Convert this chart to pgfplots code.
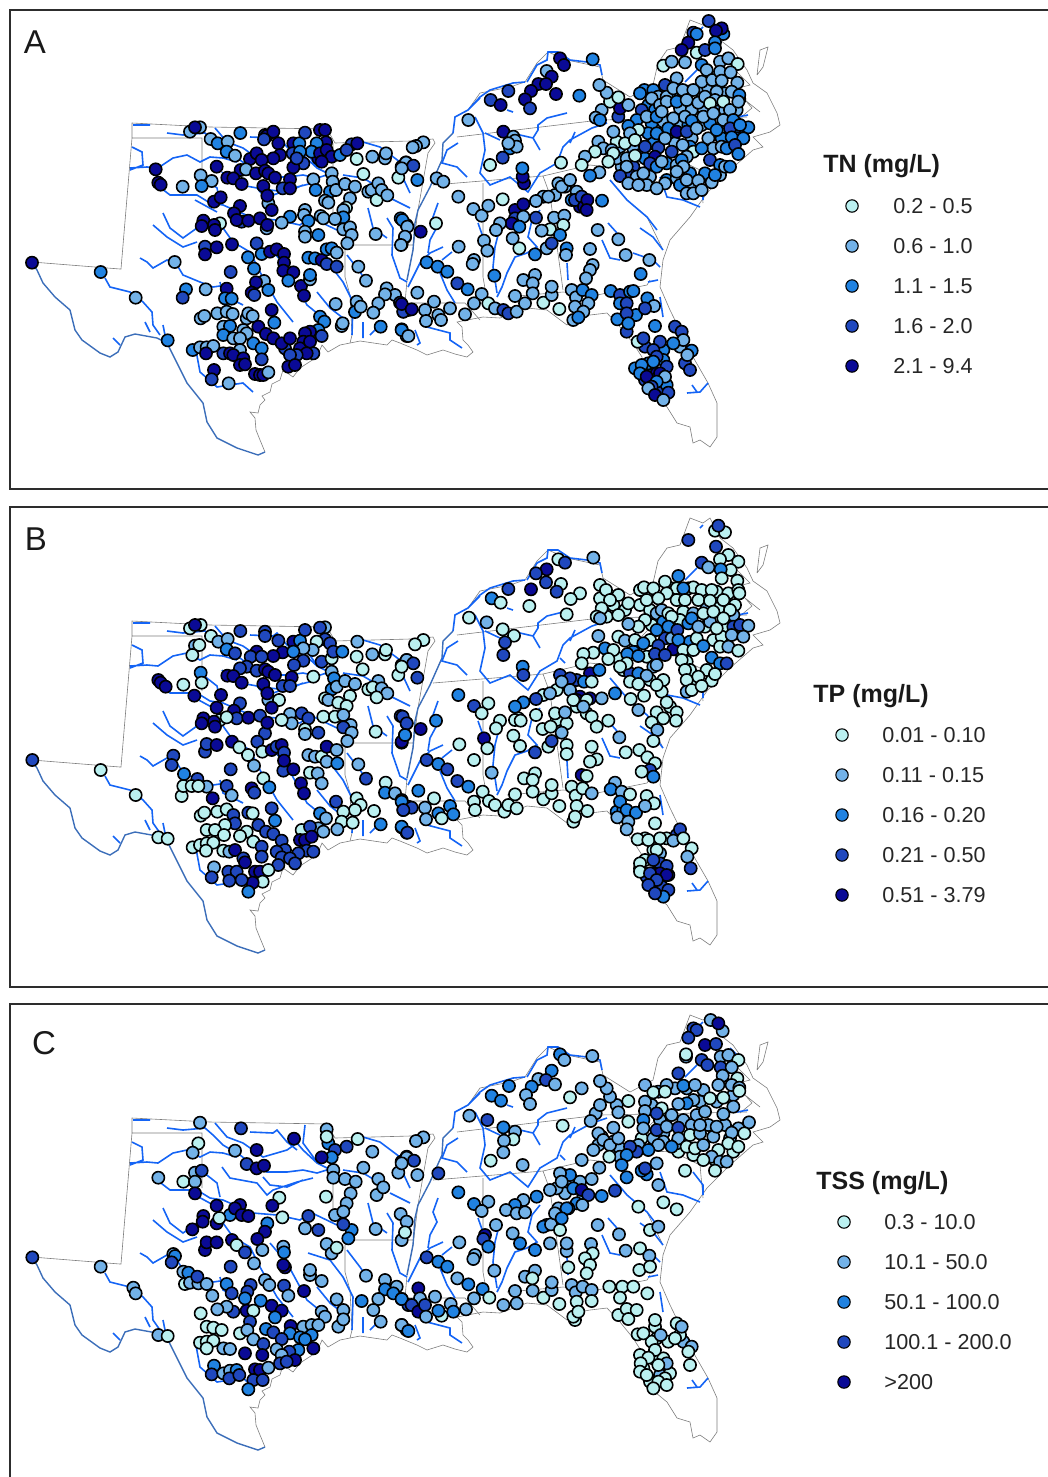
\documentclass[border=0pt]{standalone}
\usepackage{pgfplots}
\usepackage{pgfplotstable}
\usepackage{fontspec}
\setmainfont{Liberation Sans}
\pgfplotsset{compat=1.18}
\definecolor{c1}{RGB}{186,240,240}
\definecolor{c2}{RGB}{115,178,232}
\definecolor{c3}{RGB}{32,130,225}
\definecolor{c4}{RGB}{32,72,190}
\definecolor{c5}{RGB}{10,10,150}
\definecolor{riv}{RGB}{20,100,245}
\definecolor{rio}{RGB}{60,110,185}
\definecolor{bord}{RGB}{125,125,125}
\definecolor{fr}{RGB}{45,45,45}
\pgfplotstableread[row sep=\\]{x y\\
32 262\\ 120 269\\ 121 269\\ 132 138\\ 132 123\\ 210 127\\ 327 129\\ 335 143\\ 410 141\\ 433 139\\ 435 143\\ 428 153\\ 418 210\\ 413 250\\ 407 280\\ 405 303\\ nan nan\\
132 138\\ 202 138\\ 202 193\\ nan nan\\
333 143\\ 333 215\\ nan nan\\
353 245\\ 413 245\\ nan nan\\
353 245\\ 345 250\\ 345 277\\ 350 295\\ 352 335\\ 350 343\\ nan nan\\
405 303\\ 465 303\\ 480 320\\ nan nan\\
455 117\\ 468 110\\ 480 93\\ 510 87\\ 525 82\\ 537 63\\ 548 52\\ 567 60\\ 600 67\\ 603 80\\ 630 97\\ 653 85\\ 658 63\\ 667 50\\ 680 47\\ 690 20\\ 703 25\\ 710 20\\ 720 40\\ 733 50\\ nan nan\\
457 137\\ 600 120\\ 747 117\\ nan nan\\
433 185\\ 543 176\\ 590 165\\ 607 167\\ 633 147\\ 660 120\\ nan nan\\
483 183\\ 483 277\\ 487 300\\ nan nan\\
543 176\\ 550 195\\ 563 290\\ nan nan\\
507 297\\ 563 292\\ 597 295\\ 647 285\\ 650 280\\ nan nan\\
610 180\\ 627 200\\ 647 217\\ 663 250\\ nan nan\\
633 155\\ 673 157\\ 700 170\\ 703 203\\ nan nan\\
757 75\\ 760 50\\ 768 47\\ 763 67\\ 757 75\\ nan nan\\
}\Border
\pgfplotstableread[row sep=\\]{x y\\
265 452\\ 260 440\\ 256 430\\ 255 418\\ 250 412\\ 258 413\\ 260 405\\ 265 400\\ 262 396\\ 270 392\\ 272 384\\ 280 380\\ 283 370\\ 293 377\\ 300 368\\ 317 357\\ 322 345\\ 328 352\\ 340 345\\ 360 341\\ 387 345\\ 392 340\\ 400 343\\ 417 350\\ 427 355\\ 443 350\\ 455 354\\ 467 357\\ 473 352\\ 468 345\\ 463 340\\ 462 327\\ 457 322\\ 483 317\\ 500 318\\ 527 308\\ 547 310\\ 567 325\\ 572 318\\ 590 315\\ 607 313\\ 620 327\\ 633 343\\ 642 357\\ 645 375\\ 650 393\\ 667 407\\ 677 423\\ 690 427\\ 693 443\\ 700 440\\ 710 447\\ 717 437\\ 717 403\\ 708 383\\ 693 357\\ 670 310\\ 660 287\\ 663 260\\ 670 240\\ 690 217\\ 707 193\\ 730 170\\ 753 150\\ 763 147\\ 753 137\\ 770 132\\ 780 125\\ 777 113\\ 767 93\\ 753 83\\ 747 70\\ 733 50\\ nan nan\\
740 118\\ 752 108\\ 745 100\\ 760 112\\ nan nan\\
735 70\\ 750 85\\ 738 88\\ nan nan\\
}\Coast
\pgfplotstableread[row sep=\\]{x y\\
32 263\\ 37 270\\ 43 283\\ 55 297\\ 70 310\\ 75 330\\ 82 340\\ 100 353\\ 110 357\\ 118 352\\ 125 337\\ 135 334\\ 157 338\\ 167 343\\ 177 363\\ 187 383\\ 203 403\\ 207 422\\ 217 438\\ 237 448\\ 258 455\\ 265 452\\ nan nan\\
453 133\\ 443 143\\ 442 160\\ 430 187\\ 418 210\\ 415 223\\ 413 250\\ 407 280\\ nan nan\\
}\Rio
\pgfplotstableread[row sep=\\]{x y\\
133 125\\ 150 125\\ nan nan\\
132 147\\ 142 152\\ 143 165\\ 130 170\\ nan nan\\
130 168\\ 147 167\\ 158 168\\ 173 158\\ 187 155\\ 200 162\\ 210 157\\ 223 158\\ 237 162\\ nan nan\\
167 133\\ 183 135\\ 205 133\\ 213 140\\ 223 150\\ 240 160\\ 253 170\\ 267 177\\ 287 177\\ 303 175\\ 317 178\\ 333 173\\ nan nan\\
215 128\\ 227 142\\ 243 148\\ 263 162\\ 287 155\\ 297 148\\ 303 155\\ 317 168\\ 327 173\\ nan nan\\
250 137\\ 273 138\\ 277 135\\ 287 147\\ 297 155\\ nan nan\\
305 130\\ 303 148\\ 317 167\\ nan nan\\
222 172\\ 230 183\\ 257 188\\ 267 200\\ 273 195\\ 297 187\\ 313 183\\ nan nan\\
263 182\\ 270 190\\ 287 192\\ 303 185\\ nan nan\\
157 185\\ 170 195\\ 197 195\\ 210 203\\ 223 205\\ 253 218\\ 277 220\\ 300 225\\ 310 217\\ 337 230\\ nan nan\\
195 200\\ 217 212\\ nan nan\\
163 213\\ 170 228\\ 183 238\\ 197 228\\ nan nan\\
153 225\\ 167 237\\ 183 247\\ 197 242\\ nan nan\\
203 177\\ 217 188\\ 220 202\\ nan nan\\
140 258\\ 147 262\\ 153 268\\ 167 260\\ 177 265\\ 183 275\\ 200 282\\ 213 287\\ 227 285\\ nan nan\\
105 278\\ 110 287\\ 130 292\\ 143 302\\ 152 312\\ 153 325\\ 160 335\\ nan nan\\
113 338\\ 120 345\\ nan nan\\
145 322\\ 150 332\\ nan nan\\
163 325\\ 165 335\\ nan nan\\
195 345\\ 200 372\\ 217 387\\ 243 383\\ 253 392\\ nan nan\\
220 282\\ 223 295\\ 243 305\\ nan nan\\
223 228\\ 233 242\\ 250 252\\ 260 272\\ 277 302\\ 293 322\\ nan nan\\
270 248\\ 287 268\\ 300 292\\ 307 305\\ 323 318\\ nan nan\\
308 258\\ 330 265\\ 343 282\\ 353 302\\ 352 335\\ nan nan\\
317 292\\ 330 308\\ 343 318\\ nan nan\\
347 255\\ 360 272\\ 367 282\\ nan nan\\
368 208\\ 373 228\\ 387 238\\ nan nan\\
387 218\\ 393 228\\ 392 255\\ 400 278\\ 407 282\\ nan nan\\
363 322\\ 363 338\\ nan nan\\
380 325\\ 370 335\\ nan nan\\
390 198\\ 410 208\\ nan nan\\
403 178\\ 410 193\\ nan nan\\
363 142\\ 380 147\\ 400 162\\ nan nan\\
343 175\\ 363 178\\ 380 188\\ nan nan\\
480 98\\ 468 110\\ 455 117\\ 453 133\\ nan nan\\
527 82\\ 537 65\\ 547 60\\ 548 52\\ 558 52\\ 570 60\\ 587 62\\ 600 65\\ 602 75\\ nan nan\\
468 110\\ 480 97\\ 490 90\\ 513 83\\ 525 82\\ nan nan\\
507 110\\ 513 112\\ nan nan\\
567 113\\ 547 118\\ 538 125\\ 538 130\\ 533 138\\ 520 135\\ 512 143\\ nan nan\\
533 138\\ 540 150\\ nan nan\\
475 117\\ 483 133\\ 485 150\\ 480 173\\ 490 185\\ 510 177\\ 528 192\\ 540 173\\ 557 163\\ 563 147\\ 570 140\\ 592 128\\ 607 123\\ nan nan\\
575 132\\ 570 143\\ nan nan\\
560 160\\ 565 165\\ nan nan\\
485 133\\ 500 140\\ nan nan\\
458 143\\ 447 150\\ 442 163\\ 457 167\\ 467 177\\ nan nan\\
438 203\\ 433 217\\ 437 227\\ 430 240\\ 428 253\\ nan nan\\
443 247\\ 430 253\\ 420 263\\ 413 277\\ 408 287\\ nan nan\\
452 252\\ 442 260\\ nan nan\\
440 273\\ 447 290\\ 455 303\\ nan nan\\
478 223\\ 483 237\\ nan nan\\
500 227\\ 495 247\\ 493 267\\ 497 293\\ nan nan\\
540 210\\ 532 220\\ 528 237\\ 537 247\\ 527 253\\ 515 257\\ 507 273\\ 502 287\\ 497 297\\ nan nan\\
567 263\\ 568 280\\ nan nan\\
608 223\\ 617 233\\ nan nan\\
602 240\\ 610 258\\ 620 260\\ nan nan\\
633 253\\ 653 260\\ 660 267\\ nan nan\\
640 228\\ 653 237\\ 663 250\\ nan nan\\
648 282\\ 658 280\\ nan nan\\
610 180\\ 627 200\\ 647 217\\ 657 230\\ nan nan\\
660 297\\ 663 317\\ nan nan\\
660 177\\ 667 197\\ 683 200\\ 700 207\\ nan nan\\
693 177\\ 703 190\\ 703 200\\ nan nan\\
687 393\\ 700 392\\ 708 383\\ nan nan\\
692 385\\ 697 392\\ nan nan\\
697 70\\ 685 82\\ nan nan\\
737 117\\ 748 115\\ nan nan\\
730 53\\ 737 60\\ nan nan\\
703 27\\ 700 30\\ nan nan\\
427 327\\ 450 333\\ 450 340\\ 462 348\\ nan nan\\
415 330\\ 420 343\\ 417 345\\ nan nan\\
}\Rivers
% Panel A, west: x = X/3+10, y = Y/3+110
\pgfplotstableread[row sep=\\]{x y c\\
940 130 5\\ 925 145 5\\
66 458 5\\ 272 486 3\\ 377 563 2\\ 494 456 2\\ 473 691 3\\ 437 178 5\\ 445 218 5\\ 452 224 5\\ 518 230 2\\ 540 65 2\\ 570 52 2\\ 555 52 5\\ 602 87 2\\ 623 100 3\\ 653 95 2\\ 650 125 3\\ 675 137 2\\ 691 69 3\\ 765 75 4\\ 770 78 5\\ 790 65 5\\ 762 88 4\\ 805 100 5\\ 810 135 5\\ 790 145 5\\ 850 100 5\\ 868 100 3\\ 885 68 4\\ 930 60 5\\ 945 60 5\\ 948 97 5\\ 920 100 3\\ 905 125 3\\ 848 130 4\\ 870 125 3\\ 880 160 4\\ 850 172 5\\ 860 145 4\\ 930 130 5\\ 950 120 5\\ 965 140 5\\ 935 155 5\\ 990 135 3\\ 1025 103 4\\ 1042 100 5\\ 1010 120 4\\ 720 147 5\\ 740 130 5\\ 755 150 5\\ 692 180 5\\ 708 178 2\\ 738 190 5\\ 765 182 5\\ 775 190 5\\ 795 203 5\\ 620 170 5\\ 652 203 5\\ 670 205 5\\ 695 222 5\\ 840 208 5\\ 818 235 4\\ 840 235 5\\ 760 228 5\\ 775 280 2\\ 772 257 5\\ 785 300 5\\ 572 196 2\\ 605 213 2\\ 575 228 3\\ 612 275 5\\ 632 262 5\\ 1040 147 1\\ 1060 192 1\\ 1087 140 2\\ 1125 145 2\\ 1128 130 2\\ 910 208 2\\ 917 240 3\\ 965 190 2\\ 968 215 2\\ 960 245 3\\ 978 240 2\\ 1005 222 2\\ 1035 230 2\\ 1020 265 2\\ 945 272 2\\ 955 278 2\\ 1008 293 1\\ 1000 300 2\\ 1165 203 1\\ 1175 170 2\\ 1188 157 2\\ 1075 245 2\\ 1085 240 2\\ 1105 220 2\\ 1100 270 1\\ 1115 240 2\\ 1132 256 2\\ 885 300 2\\ 882 315 2\\ 895 333 3\\ 840 320 3\\ 815 338 2\\ 932 318 2\\ 940 325 2\\ 1000 322 3\\ 975 327 2\\ 1000 358 2\\ 1020 352 2\\ 1025 375 2\\ 1012 400 2\\ 885 365 2\\ 885 380 2\\ 925 375 3\\ 1097 372 2\\ 1172 325 3\\ 1190 345 2\\ 1175 403 2\\ 1185 382 2\\ 690 288 5\\ 672 310 5\\ 695 335 4\\ 680 330 5\\ 715 332 5\\ 750 325 5\\ 770 355 2\\ 772 345 5\\ 630 340 1\\ 580 332 5\\ 575 348 5\\ 612 345 5\\ 615 360 5\\ 585 410 4\\ 620 412 5\\ 585 433 5\\ 666 403 5\\ 740 400 4\\ 714 442 3\\ 755 432 3\\ 732 476 3\\ 780 425 5\\ 800 418 5\\ 822 432 5\\ 822 458 5\\ 820 482 5\\ 850 487 5\\ 835 512 3\\ 895 443 3\\ 915 445 3\\ 935 450 5\\ 950 462 4\\ 980 470 4\\ 950 418 3\\ 965 415 3\\ 980 428 2\\ 662 486 4\\ 762 513 2\\ 738 517 5\\ 775 540 3\\ 725 548 5\\ 733 555 4\\ 650 536 5\\ 645 565 3\\ 665 566 3\\ 528 538 3\\ 518 563 4\\ 587 538 2\\ 873 528 5\\ 882 557 5\\ 900 508 2\\ 900 495 3\\ 1045 470 2\\ 1068 512 2\\ 1040 575 2\\ 1035 606 3\\ 1052 590 2\\ 977 582 2\\ 1130 535 2\\ 1155 555 2\\ 1125 553 2\\ 1105 580 2\\ 1090 608 2\\ 1170 578 4\\ 1180 605 4\\ 1195 600 3\\ 785 600 5\\ 793 638 3\\ 930 620 3\\ 943 635 3\\ 995 648 2\\ 998 640 2\\ 1112 650 3\\ 1175 658 3\\ 1190 678 2\\ 572 625 2\\ 583 618 2\\ 622 610 2\\ 650 605 2\\ 668 612 2\\ 710 625 2\\ 715 610 2\\ 728 618 2\\ 640 650 2\\ 660 648 3\\ 640 675 3\\ 670 685 2\\ 700 660 2\\ 710 670 2\\ 690 685 2\\ 745 650 5\\ 768 672 5\\ 790 685 5\\ 825 715 4\\ 815 700 5\\ 840 685 5\\ 730 700 3\\ 755 715 3\\ 690 720 2\\ 925 660 3\\ 935 678 4\\ 900 665 5\\ 885 670 5\\ 880 695 5\\ 870 715 5\\ 900 695 5\\ 910 730 4\\ 890 730 5\\ 860 735 4\\ 840 735 4\\ 835 770 5\\ 855 765 5\\ 548 720 3\\ 570 712 2\\ 590 712 2\\ 610 708 2\\ 588 730 5\\ 640 730 4\\ 660 730 5\\ 670 735 5\\ 700 745 5\\ 690 765 5\\ 705 763 5\\ 755 748 4\\ 735 792 5\\ 750 795 5\\ 760 795 5\\ 775 787 2\\ 612 780 5\\ 605 808 4\\ 656 820 2\\
}\AW
% Panel A, east: x = X/3+400, y = Y/3+10
\pgfplotstableread[row sep=\\]{x y c\\
745 245 3\\ 815 250 2\\ 865 245 2\\ 905 245 2\\ 925 235 2\\ 975 250 2\\ 745 285 3\\ 765 300 3\\ 840 295 2\\ 875 300 2\\ 910 295 2\\ 955 295 2\\ 975 300 2\\ 1010 300 2\\ 755 340 3\\ 790 335 2\\ 835 340 2\\ 865 345 3\\ 905 345 2\\ 930 340 3\\ 975 355 2\\ 1010 360 3\\ 745 370 3\\ 790 385 3\\ 820 385 3\\ 875 385 2\\ 925 385 2\\ 965 385 3\\ 1010 385 3\\ 760 400 3\\ 825 400 2\\ 870 410 3\\ 940 415 2\\ 965 410 2\\ 660 410 2\\ 650 395 1\\ 700 415 2\\ 720 435 2\\ 735 445 3\\ 800 460 3\\ 830 465 2\\ 870 490 3\\ 880 525 2\\ 915 490 3\\ 960 495 2\\ 750 500 2\\ 800 510 3\\ 830 505 2\\ 840 525 3\\ 665 470 2\\ 650 445 2\\ 700 470 4\\ 690 495 4\\ 740 525 2\\ 795 520 2\\ 735 1010 4\\ 790 1020 3\\ 755 1075 4\\ 790 1050 3\\ 745 1060 3\\ 705 1075 3\\ 735 1110 4\\ 775 1140 4\\ 800 1125 3\\ 770 1090 5\\ 840 1010 2\\ 855 1060 4\\ 530 545 2\\ 495 530 2\\ 465 555 2\\ 430 560 2\\ 540 590 5\\ 350 640 3\\
926 33 4\\ 970 72 3\\ 965 55 5\\ 948 62 5\\ 880 68 4\\ 890 72 3\\ 865 98 5\\ 845 120 5\\ 890 128 1\\ 915 120 4\\ 945 97 3\\ 945 115 3\\ 790 167 1\\ 815 155 2\\ 855 157 2\\ 905 165 3\\ 960 155 2\\ 985 145 2\\ 1013 162 1\\ 920 180 2\\ 830 205 2\\ 905 215 2\\ 937 210 2\\ 960 185 2\\ 965 212 2\\ 992 187 2\\ 1012 218 2\\ 733 240 3\\ 720 250 3\\ 795 225 4\\ 760 240 3\\ 775 260 2\\ 800 260 2\\ 820 235 2\\ 848 240 2\\ 880 240 2\\ 950 245 2\\ 995 245 2\\ 1018 268 2\\ 1018 255 3\\ 725 300 4\\ 755 265 2\\ 780 285 2\\ 800 275 2\\ 830 275 3\\ 860 270 2\\ 895 278 2\\ 915 260 2\\ 945 270 2\\ 930 280 1\\ 970 275 1\\ 990 300 2\\ 1015 275 2\\ 710 330 3\\ 685 348 3\\ 715 360 1\\ 740 320 2\\ 770 320 3\\ 785 305 2\\ 820 325 2\\ 855 320 2\\ 875 332 3\\ 910 320 2\\ 940 310 2\\ 970 330 2\\ 1000 330 3\\ 770 370 3\\ 805 355 3\\ 830 365 5\\ 860 365 4\\ 890 355 2\\ 950 360 3\\ 990 355 4\\ 1045 352 3\\ 1020 345 3\\ 995 382 3\\ 1030 385 3\\ 640 365 2\\ 690 370 2\\ 675 400 1\\ 705 390 1\\ 735 410 4\\ 775 413 4\\ 765 440 5\\ 815 425 4\\ 795 385 2\\ 848 405 2\\ 880 425 1\\ 905 415 3\\ 980 415 3\\ 1005 405 4\\ 1015 432 3\\ 860 440 2\\ 595 395 2\\ 610 415 2\\ 585 425 1\\ 555 440 2\\ 635 420 2\\ 640 430 1\\ 625 455 1\\ 680 445 2\\ 705 437 1\\ 680 470 2\\ 750 460 4\\ 770 470 3\\ 710 500 2\\ 730 490 2\\ 785 455 2\\ 845 450 3\\ 850 470 2\\ 930 450 4\\ 960 465 3\\ 975 470 2\\ 990 470 3\\ 545 465 1\\ 483 458 1\\ 598 487 2\\ 570 497 3\\ 660 498 4\\ 685 520 2\\ 715 525 2\\ 770 535 2\\ 830 485 2\\ 860 510 2\\ 895 512 2\\ 935 517 2\\ 945 495 3\\ 860 550 2\\ 880 550 2\\ 905 540 2\\ 605 300 2\\ 587 323 2\\ 600 330 3\\ 655 320 4\\ 660 295 5\\ 630 275 1\\ 655 262 1\\ 620 248 2\\ 598 225 2\\ 685 285 2\\ 480 145 5\\ 492 165 5\\ 578 148 3\\ 440 183 2\\ 455 200 5\\ 415 222 5\\ 438 222 5\\ 393 243 5\\ 375 268 5\\ 390 295 4\\ 468 252 5\\ 538 257 3\\ 325 243 4\\ 272 270 4\\ 302 285 5\\ 205 330 2\\ 310 365 5\\ 340 380 2\\ 345 392 2\\ 330 415 3\\ 350 410 2\\ 325 400 2\\ 308 443 4\\ 270 465 1\\ 372 520 5\\ 368 500 5\\ 367 475 3\\ 70 397 2\\ 48 408 2\\ 38 412 2\\ 18 458 2\\ 40 467 4\\ 5 475 2\\ 52 510 3\\ 110 505 2\\ 130 515 2\\ 175 560 2\\ 220 597 2\\ 245 617 2\\ 265 587 2\\ 308 568 1\\ 345 600 5\\ 370 583 5\\ 408 573 2\\ 445 560 2\\ 475 520 2\\ 485 530 2\\ 510 510 2\\ 515 570 3\\ 525 570 4\\ 545 560 4\\ 552 590 5\\ 562 570 5\\ 560 600 5\\ 606 572 3\\ 345 625 4\\ 335 640 5\\ 370 620 2\\ 358 650 3\\ 408 623 4\\ 300 640 2\\ 288 660 2\\ 462 623 2\\ 493 617 2\\ 490 645 1\\ 450 658 1\\ 425 662 2\\ 7 630 3\\ 22 650 2\\ 15 680 2\\ 3 705 2\\ 62 665 5\\ 108 640 1\\ 480 675 3\\ 440 715 2\\ 455 700 4\\ 500 715 3\\ 498 735 2\\ 405 733 3\\ 358 715 1\\ 338 685 2\\ 252 692 2\\ 262 722 2\\ 176 710 2\\ 222 750 2\\ 218 762 2\\ 283 797 3\\ 593 660 2\\ 655 688 2\\ 570 717 2\\ 677 735 2\\ 748 750 2\\ 722 792 3\\ 578 765 2\\ 570 780 2\\ 558 805 2\\ 80 757 3\\ 113 770 3\\ 142 785 3\\ 172 820 4\\ 203 838 3\\ 245 852 2\\ 52 848 2\\ 102 875 2\\ 10 905 4\\ 5 882 5\\ 35 898 5\\ 75 900 2\\ 150 895 2\\ 115 915 2\\ 123 930 2\\ 78 933 2\\ 195 913 2\\ 222 880 2\\ 265 880 1\\ 285 895 2\\ 310 900 4\\ 325 910 4\\ 350 905 2\\ 345 858 2\\ 375 880 2\\ 370 810 2\\ 405 795 2\\ 398 820 2\\ 398 850 2\\ 430 878 1\\ 478 897 1\\ 455 855 2\\ 455 830 2\\ 515 840 2\\ 528 862 2\\ 548 840 3\\ 575 855 3\\ 565 880 2\\ 525 890 2\\ 550 905 2\\ 520 930 2\\ 535 922 3\\ 632 843 3\\ 660 855 4\\ 690 845 3\\ 700 843 3\\ 742 865 3\\ 762 888 2\\ 660 880 3\\ 680 880 4\\ 708 915 3\\ 735 895 4\\ 652 928 3\\ 680 910 4\\ 680 965 4\\ 685 940 3\\ 713 995 1\\ 765 948 3\\ 730 985 4\\ 780 995 4\\ 825 950 4\\ 845 965 4\\ 850 990 2\\ 820 1000 3\\ 875 1022 3\\ 862 1035 2\\ 870 1080 4\\ 760 1020 4\\ 770 1040 4\\ 760 1055 3\\ 725 1065 3\\ 800 1070 4\\ 720 1090 3\\ 780 1090 5\\ 740 1100 5\\ 795 1100 2\\ 770 1115 3\\ 755 1130 4\\ 745 1135 2\\ 805 1148 4\\ 765 1155 5\\ 790 1170 2\\ 5 960 3\\ 25 978 2\\
}\AE
% Panel B, west: x = X/3+10, y = Y/3+610
\pgfplotstableread[row sep=\\]{x y c\\
67 450 4\\ 272 480 1\\ 377 555 1\\ 445 682 1\\ 473 686 1\\ 445 210 5\\ 452 218 5\\ 467 230 5\\ 520 224 1\\ 553 257 5\\ 633 255 5\\ 540 55 1\\ 572 45 1\\ 555 45 5\\ 603 78 1\\ 625 95 2\\ 653 87 2\\ 650 118 3\\ 675 130 4\\ 555 107 2\\ 568 105 1\\ 547 135 1\\ 691 63 4\\ 765 65 4\\ 765 78 4\\ 805 92 4\\ 818 127 5\\ 790 138 5\\ 850 95 5\\ 870 92 3\\ 885 60 4\\ 945 52 2\\ 930 53 4\\ 945 88 4\\ 920 95 1\\ 908 120 2\\ 880 115 2\\ 850 125 3\\ 880 152 4\\ 852 165 4\\ 935 155 4\\ 960 100 4\\ 965 145 1\\ 970 125 4\\ 997 125 3\\ 1042 95 2\\ 1040 140 1\\ 1058 178 1\\ 1087 133 2\\ 1125 133 1\\ 1128 120 1\\ 1165 195 1\\ 1175 165 2\\ 1190 150 2\\ 740 125 5\\ 722 140 4\\ 755 140 4\\ 710 170 4\\ 690 175 4\\ 740 182 4\\ 765 178 5\\ 775 185 5\\ 795 195 5\\ 652 197 5\\ 670 198 5\\ 695 218 5\\ 845 202 5\\ 818 228 4\\ 840 228 4\\ 910 200 1\\ 572 188 3\\ 575 218 1\\ 760 222 5\\ 775 270 2\\ 772 250 5\\ 807 270 1\\ 785 293 5\\ 965 185 2\\ 972 205 3\\ 965 238 3\\ 980 230 2\\ 1005 213 2\\ 1035 222 2\\ 1020 258 1\\ 945 265 1\\ 955 270 2\\ 985 278 1\\ 1010 288 1\\ 1105 213 2\\ 1075 238 1\\ 1088 232 1\\ 1115 235 2\\ 1132 250 2\\ 1100 262 1\\ 620 293 5\\ 690 280 4\\ 672 302 5\\ 680 325 4\\ 715 323 5\\ 750 317 4\\ 765 370 4\\ 772 338 5\\ 630 330 1\\ 650 322 1\\ 580 325 5\\ 575 340 5\\ 612 335 5\\ 615 350 5\\ 840 312 2\\ 845 340 2\\ 815 330 1\\ 875 310 4\\ 895 325 4\\ 940 320 1\\ 975 320 1\\ 1000 315 2\\ 1022 345 2\\ 1000 352 4\\ 1025 368 2\\ 1012 393 2\\ 885 358 1\\ 885 372 2\\ 925 368 4\\ 1097 365 1\\ 1172 318 4\\ 1190 340 4\\ 1175 398 4\\ 1185 375 3\\ 585 425 4\\ 590 402 4\\ 620 405 5\\ 666 395 5\\ 688 412 1\\ 714 435 1\\ 742 395 4\\ 757 425 1\\ 785 420 5\\ 800 410 4\\ 815 405 5\\ 822 428 4\\ 820 482 4\\ 822 452 5\\ 850 478 5\\ 732 467 2\\ 490 437 4\\ 485 465 4\\ 522 492 3\\ 562 507 4\\ 590 530 2\\ 515 558 1\\ 520 528 1\\ 545 528 1\\ 565 528 1\\ 608 565 5\\ 650 528 4\\ 665 556 2\\ 662 478 4\\ 725 535 5\\ 733 548 4\\ 760 505 1\\ 778 532 3\\ 873 520 5\\ 882 550 5\\ 900 488 1\\ 923 490 2\\ 935 520 2\\ 895 435 2\\ 915 440 2\\ 935 440 1\\ 950 410 5\\ 980 420 2\\ 950 455 2\\ 982 460 3\\ 1045 463 2\\ 1068 506 4\\ 1040 565 1\\ 1052 585 1\\ 1035 600 1\\ 978 575 4\\ 1092 603 1\\ 1127 518 1\\ 1125 548 3\\ 1155 550 2\\ 1175 570 3\\ 1180 600 4\\ 1195 590 3\\ 785 595 4\\ 795 632 3\\ 930 610 3\\ 948 625 2\\ 1000 605 1\\ 995 635 1\\ 1028 638 1\\ 982 658 2\\ 1112 643 3\\ 1175 652 3\\ 1190 668 4\\ 572 617 1\\ 583 608 1\\ 622 605 1\\ 650 598 1\\ 670 615 4\\ 715 608 4\\ 728 610 1\\ 675 640 4\\ 645 645 1\\ 590 660 1\\ 615 660 1\\ 642 675 1\\ 710 665 1\\ 690 678 1\\ 745 645 4\\ 768 665 4\\ 790 672 4\\ 815 692 4\\ 730 695 1\\ 755 710 4\\ 825 720 4\\ 925 655 2\\ 940 665 2\\ 875 660 1\\ 900 650 4\\ 870 690 5\\ 885 690 5\\ 905 680 5\\ 890 722 4\\ 910 725 4\\ 865 730 4\\ 800 725 4\\ 815 742 4\\ 840 745 4\\ 805 765 4\\ 855 760 4\\ 548 712 1\\ 570 705 1\\ 590 700 1\\ 610 698 1\\ 588 722 1\\ 640 722 1\\ 658 725 2\\ 675 720 5\\ 700 745 4\\ 705 757 5\\ 755 740 4\\ 735 785 5\\ 750 785 5\\ 758 815 1\\ 775 780 1\\ 728 818 5\\ 715 845 3\\ 612 772 2\\ 605 802 4\\ 655 785 4\\ 680 785 4\\ 658 812 4\\ 695 810 4\\
}\BW
% Panel B, east: x = X/3+400, y = Y/3+510
\pgfplotstableread[row sep=\\]{x y c\\
745 245 1\\ 815 235 1\\ 830 235 1\\ 865 235 1\\ 950 245 1\\ 985 250 1\\ 720 285 1\\ 750 300 1\\ 770 310 2\\ 850 305 1\\ 880 310 2\\ 920 295 2\\ 955 295 1\\ 1005 285 1\\ 1000 315 2\\ 755 345 1\\ 790 335 3\\ 840 330 1\\ 865 340 3\\ 915 350 1\\ 930 335 2\\ 975 350 1\\ 1010 370 4\\ 750 390 1\\ 795 385 4\\ 815 385 2\\ 870 395 3\\ 890 385 1\\ 940 390 1\\ 965 380 1\\ 845 430 1\\ 860 455 1\\ 870 480 1\\ 880 515 1\\ 920 480 1\\ 960 410 1\\ 700 425 3\\ 740 440 1\\ 760 470 2\\ 655 445 1\\ 670 480 1\\ 690 490 4\\ 715 490 3\\ 750 510 1\\ 790 510 1\\ 785 545 1\\ 810 590 1\\ 600 265 1\\ 640 285 1\\ 675 300 1\\ 620 320 1\\ 500 520 2\\ 530 510 4\\ 470 540 1\\ 430 555 1\\ 530 590 1\\ 560 610 1\\ 540 560 5\\ 570 565 5\\ 355 625 1\\ 470 630 1\\ 500 640 1\\ 735 985 1\\ 800 985 1\\ 830 975 4\\ 760 1020 1\\ 780 1030 2\\ 735 1050 1\\ 780 1060 4\\ 760 1090 5\\ 790 1100 5\\ 740 1100 4\\ 760 1130 4\\ 785 1130 4\\ 720 1075 1\\ 805 1095 4\\ 650 905 3\\ 670 900 3\\
945 62 1\\ 975 67 1\\ 955 47 4\\ 948 110 4\\ 865 90 4\\ 905 158 4\\ 925 172 2\\ 985 135 1\\ 960 148 1\\ 1015 155 1\\ 992 180 1\\ 962 178 3\\ 835 198 3\\ 880 232 1\\ 905 240 1\\ 850 235 3\\ 720 240 1\\ 732 232 1\\ 760 235 1\\ 795 215 1\\ 800 250 1\\ 965 205 1\\ 1012 212 1\\ 1015 240 1\\ 1018 250 1\\ 935 240 1\\ 740 270 1\\ 775 265 1\\ 785 300 2\\ 830 270 1\\ 855 270 1\\ 895 270 1\\ 930 272 1\\ 970 270 1\\ 990 300 1\\ 805 310 1\\ 815 320 1\\ 875 325 3\\ 910 310 1\\ 940 305 1\\ 970 325 1\\ 735 330 1\\ 715 350 1\\ 685 342 2\\ 770 360 3\\ 805 350 3\\ 832 360 4\\ 895 350 2\\ 950 355 1\\ 1000 350 4\\ 1020 345 4\\ 1045 347 2\\ 995 375 2\\ 1030 380 2\\ 655 380 1\\ 675 392 2\\ 705 390 1\\ 730 400 3\\ 775 407 4\\ 765 432 4\\ 820 418 5\\ 795 435 4\\ 835 390 3\\ 850 420 1\\ 880 420 1\\ 910 408 3\\ 985 410 2\\ 1015 422 1\\ 935 443 3\\ 960 460 3\\ 980 460 4\\ 595 378 2\\ 615 415 3\\ 580 428 1\\ 550 432 1\\ 545 460 1\\ 640 420 1\\ 625 447 1\\ 682 432 3\\ 680 460 1\\ 660 470 1\\ 715 438 3\\ 770 465 2\\ 740 497 2\\ 690 515 1\\ 715 522 1\\ 845 450 1\\ 855 480 1\\ 895 500 1\\ 935 512 1\\ 945 492 1\\ 770 525 1\\ 860 510 1\\ 860 545 2\\ 875 540 1\\ 905 528 1\\ 570 490 5\\ 598 480 3\\ 480 495 4\\ 510 505 4\\ 485 515 2\\ 552 515 3\\ 575 515 1\\ 450 550 2\\ 408 567 4\\ 370 577 3\\ 345 590 3\\ 510 540 2\\ 530 570 5\\ 520 570 1\\ 560 570 1\\ 550 590 2\\ 605 565 2\\ 645 550 3\\ 692 567 1\\ 732 557 1\\ 715 600 2\\ 770 607 1\\ 800 577 1\\ 830 607 1\\ 828 632 1\\ 790 625 1\\ 755 637 1\\ 772 660 2\\ 760 693 1\\ 575 620 1\\ 590 650 1\\ 625 632 1\\ 658 682 2\\ 677 727 1\\ 718 720 1\\ 742 742 1\\ 765 760 1\\ 750 780 4\\ 760 800 3\\ 725 785 1\\ 600 225 1\\ 618 240 1\\ 655 255 1\\ 630 270 1\\ 685 280 1\\ 655 315 1\\ 605 295 1\\ 590 320 1\\ 600 325 2\\ 580 143 2\\ 475 148 1\\ 495 158 4\\ 440 178 5\\ 408 190 4\\ 438 217 4\\ 483 222 1\\ 470 245 4\\ 393 238 5\\ 540 250 1\\ 512 267 1\\ 325 237 4\\ 275 265 3\\ 302 278 1\\ 388 288 1\\ 500 313 1\\ 207 323 1\\ 260 337 2\\ 308 358 1\\ 342 377 1\\ 315 397 4\\ 310 435 4\\ 70 390 1\\ 45 403 1\\ 20 450 2\\ 40 460 4\\ 5 470 1\\ 52 503 4\\ 368 470 3\\ 370 495 4\\ 175 555 3\\ 222 588 4\\ 265 580 1\\ 245 610 1\\ 300 632 1\\ 288 655 1\\ 345 630 1\\ 362 632 1\\ 340 677 1\\ 360 708 1\\ 408 615 1\\ 428 657 1\\ 452 650 1\\ 465 610 1\\ 495 607 2\\ 485 668 2\\ 445 710 1\\ 455 693 4\\ 500 705 1\\ 500 732 1\\ 405 727 4\\ 108 632 3\\ 8 620 4\\ 20 640 4\\ 62 657 5\\ 5 695 5\\ 15 675 3\\ 178 703 1\\ 252 685 5\\ 262 715 1\\ 222 750 1\\ 275 788 2\\ 80 750 4\\ 115 762 3\\ 142 778 4\\ 172 813 4\\ 205 830 3\\ 248 845 1\\ 222 875 1\\ 225 900 1\\ 267 873 1\\ 285 885 1\\ 313 905 1\\ 325 885 1\\ 350 895 1\\ 345 853 1\\ 372 805 1\\ 405 790 1\\ 398 810 1\\ 398 845 1\\ 430 868 1\\ 478 888 1\\ 455 850 1\\ 455 825 1\\ 515 830 1\\ 527 857 1\\ 548 835 1\\ 575 850 2\\ 562 903 1\\ 530 888 1\\ 520 935 1\\ 525 920 1\\ 575 710 1\\ 590 748 1\\ 570 755 1\\ 545 795 5\\ 560 798 1\\ 55 842 3\\ 102 865 1\\ 5 875 3\\ 35 893 4\\ 10 900 4\\ 75 893 2\\ 150 888 3\\ 115 910 3\\ 160 913 3\\ 78 928 2\\ 125 925 1\\ 5 950 3\\ 22 968 4\\ 645 818 2\\ 632 838 3\\ 665 845 2\\ 690 853 1\\ 740 858 1\\ 762 880 1\\ 660 875 3\\ 680 900 3\\ 708 908 3\\ 735 888 2\\ 652 922 2\\ 685 935 2\\ 680 958 2\\ 765 940 1\\ 713 988 1\\ 745 990 1\\ 780 985 1\\ 840 958 4\\ 820 992 2\\ 850 985 1\\ 875 1015 1\\ 862 1040 2\\ 872 1075 4\\ 770 1020 1\\ 720 1060 1\\ 720 1085 1\\ 760 1050 4\\ 800 1068 4\\ 780 1090 5\\ 800 1095 5\\ 750 1090 4\\ 770 1110 4\\ 745 1125 4\\ 805 1140 4\\ 790 1160 3\\ 765 1150 4\\
}\BE
% Panel C, west: x = X/3+10, y = Y/3+1100
\pgfplotstableread[row sep=\\]{x y c\\
67 472 4\\ 272 500 2\\ 370 563 2\\ 377 580 2\\ 445 705 2\\ 473 708 1\\ 570 68 2\\ 693 85 4\\ 565 130 1\\ 548 158 2\\ 675 152 2\\ 740 150 5\\ 852 116 5\\ 950 88 2\\ 955 130 3\\ 950 110 1\\ 975 150 4\\ 1010 140 4\\ 965 172 3\\ 935 172 5\\ 1043 117 1\\ 1087 155 2\\ 710 192 4\\ 740 205 5\\ 762 197 5\\ 445 233 2\\ 520 245 1\\ 555 218 2\\ 575 212 4\\ 555 245 2\\ 555 280 5\\ 970 210 2\\ 970 233 2\\ 1005 237 2\\ 1037 245 2\\ 1060 203 2\\ 1165 218 2\\ 1175 185 2\\ 1190 170 2\\ 1105 237 2\\ 1100 285 2\\ 1120 262 2\\ 1022 280 2\\ 1010 310 2\\ 948 290 1\\ 808 293 1\\ 787 317 5\\ 817 352 1\\ 620 317 5\\ 660 345 3\\ 690 315 5\\ 675 325 5\\ 695 345 5\\ 715 348 5\\ 580 348 5\\ 578 365 5\\ 620 370 5\\ 628 354 1\\ 547 388 5\\ 772 370 3\\ 765 395 5\\ 742 417 5\\ 895 348 4\\ 885 385 2\\ 925 390 4\\ 975 345 2\\ 1000 335 2\\ 1025 390 3\\ 1000 373 4\\ 1015 415 3\\ 1097 387 2\\ 1172 342 2\\ 1190 365 2\\ 1175 420 2\\ 1185 397 1\\ 585 450 5\\ 590 427 5\\ 620 427 5\\ 666 420 5\\ 680 435 1\\ 705 457 4\\ 757 450 2\\ 820 440 2\\ 822 457 3\\ 825 502 5\\ 820 495 5\\ 732 490 2\\ 662 500 4\\ 950 432 2\\ 965 460 2\\ 980 443 1\\ 490 462 2\\ 495 468 3\\ 485 487 4\\ 520 515 2\\ 535 518 3\\ 525 552 1\\ 540 548 2\\ 565 550 2\\ 562 530 4\\ 590 552 2\\ 650 552 3\\ 665 580 4\\ 607 587 2\\ 1068 527 2\\ 900 525 2\\ 900 510 2\\ 935 543 2\\ 882 573 5\\ 1125 540 2\\ 1160 560 2\\ 1125 568 3\\ 1150 580 3\\ 1105 597 2\\ 1175 597 3\\ 1195 615 4\\ 1090 630 2\\ 1112 665 2\\ 1175 675 2\\ 1190 690 3\\ 1055 603 3\\ 980 598 2\\ 1000 630 2\\ 985 680 2\\ 1000 658 2\\ 722 555 4\\ 712 575 4\\ 705 595 3\\ 765 540 2\\ 778 555 2\\ 822 557 4\\ 835 587 2\\ 752 602 3\\ 785 617 5\\ 815 632 5\\ 795 652 3\\ 710 632 5\\ 730 632 1\\ 670 635 4\\ 650 620 2\\ 622 628 2\\ 572 640 1\\ 935 635 2\\ 945 650 2\\ 720 665 4\\ 768 687 3\\ 790 697 4\\ 842 678 5\\ 840 700 3\\ 815 717 4\\ 880 680 2\\ 905 675 2\\ 925 675 2\\ 870 712 3\\ 905 705 3\\ 885 718 3\\ 910 745 5\\ 865 750 3\\ 590 680 1\\ 610 683 1\\ 635 690 1\\ 690 700 1\\ 712 690 2\\ 730 718 2\\ 760 732 4\\ 570 728 1\\ 590 725 1\\ 610 722 1\\ 590 745 1\\ 640 745 2\\ 660 747 2\\ 705 760 5\\ 757 765 5\\ 800 748 2\\ 838 755 4\\ 815 765 2\\ 855 780 5\\ 810 790 4\\ 830 785 4\\ 612 797 3\\ 605 823 4\\ 640 820 2\\ 660 812 2\\ 680 810 3\\ 658 835 4\\ 688 825 4\\ 735 808 5\\ 750 810 5\\ 775 803 2\\ 730 840 4\\ 758 840 4\\ 715 868 3\\
}\CW
% Panel C, east: x = X/3+400, y = Y/3+1005
\pgfplotstableread[row sep=\\]{x y c\\
775 260 2\\ 825 250 2\\ 860 250 2\\ 910 255 2\\ 900 290 2\\ 950 290 2\\ 1000 270 2\\ 755 300 2\\ 780 345 2\\ 850 345 2\\ 875 360 2\\ 925 360 2\\ 975 360 2\\ 1015 370 2\\ 790 385 2\\ 870 390 1\\ 900 385 2\\ 940 395 2\\ 990 400 2\\ 725 400 1\\ 760 400 2\\ 790 410 2\\ 640 410 2\\ 605 395 2\\ 595 420 2\\ 660 430 2\\ 715 420 2\\ 660 455 2\\ 835 440 1\\ 880 450 1\\ 945 465 1\\ 1000 440 1\\ 830 415 2\\ 650 300 2\\ 490 510 2\\ 520 530 2\\ 540 530 2\\ 495 565 2\\ 470 550 2\\ 550 570 2\\ 530 595 3\\ 475 610 2\\ 505 610 3\\ 440 660 2\\ 765 965 1\\ 770 1000 1\\ 850 1010 2\\ 805 1010 1\\ 840 990 1\\ 720 1050 1\\ 760 1060 1\\ 790 1060 1\\ 730 1090 1\\ 780 1110 2\\ 750 1130 1\\ 810 1105 1\\ 755 1010 1\\
932 45 2\\ 968 78 2\\ 955 55 5\\ 880 70 4\\ 890 75 4\\ 865 98 4\\ 915 120 5\\ 948 117 4\\ 858 155 2\\ 858 148 1\\ 905 165 4\\ 922 180 4\\ 962 155 2\\ 985 150 2\\ 1015 165 1\\ 962 187 4\\ 995 187 2\\ 835 205 4\\ 1012 220 1\\ 968 212 2\\ 735 240 2\\ 760 262 1\\ 800 240 2\\ 850 242 3\\ 885 240 2\\ 795 260 1\\ 955 240 2\\ 995 240 2\\ 1018 248 2\\ 1018 258 1\\ 930 280 1\\ 970 278 1\\ 880 285 2\\ 860 295 3\\ 835 297 2\\ 785 310 1\\ 735 290 2\\ 735 318 2\\ 770 325 4\\ 815 330 2\\ 890 330 2\\ 915 320 2\\ 970 327 2\\ 1000 305 2\\ 730 345 3\\ 730 370 2\\ 770 375 4\\ 800 365 2\\ 835 368 4\\ 900 360 2\\ 950 365 2\\ 1047 352 2\\ 995 383 2\\ 1033 385 1\\ 835 400 2\\ 860 425 1\\ 885 430 1\\ 910 420 2\\ 985 415 1\\ 1015 425 1\\ 955 435 1\\ 935 455 2\\ 960 470 2\\ 980 470 2\\ 945 497 1\\ 855 497 1\\ 910 465 1\\ 770 475 2\\ 775 420 2\\ 815 425 3\\ 745 435 3\\ 710 440 4\\ 690 425 4\\ 595 385 2\\ 610 405 2\\ 630 420 2\\ 655 400 2\\ 680 450 3\\ 665 480 3\\ 680 517 3\\ 740 508 3\\ 725 497 3\\ 735 490 4\\ 640 368 2\\ 685 350 1\\ 587 325 2\\ 600 300 2\\ 572 348 2\\ 655 322 2\\ 685 288 1\\ 630 275 2\\ 620 250 2\\ 600 228 2\\ 577 153 2\\ 480 148 3\\ 493 165 2\\ 455 197 3\\ 415 222 2\\ 438 225 4\\ 465 238 2\\ 395 245 3\\ 545 250 2\\ 510 277 1\\ 327 243 3\\ 275 272 3\\ 303 287 3\\ 378 270 2\\ 390 297 2\\ 208 332 2\\ 262 345 4\\ 488 362 1\\ 310 367 3\\ 345 380 2\\ 340 403 1\\ 312 407 2\\ 310 442 2\\ 272 467 1\\ 368 480 2\\ 70 397 2\\ 48 408 2\\ 20 458 2\\ 42 467 4\\ 5 475 2\\ 52 510 2\\ 115 505 4\\ 545 465 2\\ 580 435 2\\ 628 455 1\\ 598 488 2\\ 510 510 3\\ 480 505 2\\ 485 530 2\\ 575 522 2\\ 520 550 3\\ 450 555 2\\ 410 575 3\\ 370 585 2\\ 345 600 3\\ 318 615 2\\ 350 625 2\\ 375 622 2\\ 545 555 5\\ 565 570 4\\ 547 600 2\\ 605 573 3\\ 645 557 4\\ 715 605 1\\ 790 592 1\\ 830 613 1\\ 775 540 2\\ 175 562 3\\ 222 597 3\\ 265 590 2\\ 245 618 2\\ 288 660 2\\ 338 685 2\\ 360 715 3\\ 405 735 3\\ 450 715 2\\ 430 665 3\\ 453 658 2\\ 480 675 1\\ 465 625 2\\ 500 610 3\\ 485 640 3\\ 500 738 2\\ 500 715 2\\ 593 660 2\\ 657 688 2\\ 573 717 2\\ 677 737 2\\ 720 730 1\\ 748 752 2\\ 750 675 1\\ 775 665 2\\ 578 745 1\\ 555 760 1\\ 570 780 1\\ 560 805 1\\ 505 787 1\\ 718 795 1\\ 750 785 1\\ 255 690 5\\ 250 702 4\\ 265 725 3\\ 178 712 2\\ 225 750 2\\ 220 762 2\\ 283 797 2\\ 80 757 4\\ 115 770 3\\ 142 785 3\\ 172 820 2\\ 205 838 3\\ 248 852 3\\ 222 880 2\\ 268 878 1\\ 310 900 2\\ 345 858 2\\ 350 895 2\\ 375 815 2\\ 405 797 2\\ 397 820 1\\ 398 857 2\\ 430 878 1\\ 478 897 1\\ 455 855 2\\ 455 832 2\\ 515 840 2\\ 527 862 2\\ 548 845 2\\ 575 855 2\\ 575 888 1\\ 530 890 1\\ 525 945 1\\ 520 935 1\\ 535 920 1\\ 628 845 1\\ 667 845 1\\ 700 845 1\\ 660 878 1\\ 742 865 1\\ 655 930 1\\ 680 912 1\\ 710 915 1\\ 685 942 1\\ 55 850 5\\ 105 875 2\\ 5 882 3\\ 60 880 2\\ 35 900 4\\ 55 920 5\\ 75 900 4\\ 78 935 2\\ 125 932 1\\ 152 897 2\\ 115 917 3\\ 160 920 3\\ 198 913 2\\ 5 960 2\\ 25 978 3\\ 765 945 1\\ 713 988 1\\ 730 985 1\\ 782 990 2\\ 830 955 1\\ 845 965 2\\ 825 1000 1\\ 875 1025 2\\ 865 1040 1\\ 870 1080 1\\ 765 1035 1\\ 745 1058 1\\ 722 1075 1\\ 800 1075 2\\ 775 1080 1\\ 720 1100 1\\ 740 1110 1\\ 795 1120 1\\ 775 1130 1\\ 800 1140 1\\ 760 1150 1\\
}\CE
\pgfplotsset{
  panel/.style={hide axis, scale only axis, anchor=north west, width=524pt, xmin=0, xmax=1048, y dir=reverse, unbounded coords=jump},
  pts/.style={only marks, scatter, scatter src=explicit symbolic, mark=*, mark size=3.05pt,
    scatter/classes={
      1={mark=*,draw=black,fill=c1,line width=.8pt},
      2={mark=*,draw=black,fill=c2,line width=.8pt},
      3={mark=*,draw=black,fill=c3,line width=.8pt},
      4={mark=*,draw=black,fill=c4,line width=.8pt},
      5={mark=*,draw=black,fill=c5,line width=.8pt}}},
  leg/.style={only marks, scatter, scatter src=explicit symbolic, mark=*, mark size=3.1pt,
    scatter/classes={
      1={mark=*,draw=black,fill=c1,line width=.55pt},
      2={mark=*,draw=black,fill=c2,line width=.55pt},
      3={mark=*,draw=black,fill=c3,line width=.55pt},
      4={mark=*,draw=black,fill=c4,line width=.55pt},
      5={mark=*,draw=black,fill=c5,line width=.55pt}}},
}
\newcommand\basemap[1]{%
  \addplot[bord,line width=.3pt,no markers] table[x=x,y expr=\thisrow{y}+#1]{\Border};
  \addplot[bord,line width=.3pt,no markers] table[x=x,y expr=\thisrow{y}+#1]{\Coast};
  \addplot[rio,line width=.7pt,no markers] table[x=x,y expr=\thisrow{y}+#1]{\Rio};
  \addplot[riv,line width=.8pt,no markers] table[x=x,y expr=\thisrow{y}+#1]{\Rivers};
}
\newcommand\ltxt[3]{\node[anchor=west,inner sep=0pt,text=black!85,font=\fontsize{10.8pt}{12pt}\selectfont] at (axis cs:#1,#2) {#3};}
\newcommand\ttxt[3]{\node[anchor=west,inner sep=0pt,text=black!90,font=\fontsize{12.5pt}{14pt}\selectfont\bfseries] at (axis cs:#1,#2) {#3};}
\newcommand\letter[3]{\node[inner sep=0pt,text=black!90,font=\fontsize{16.5pt}{18pt}\selectfont] at (axis cs:#1,#2) {#3};}
\begin{document}
\begin{tikzpicture}[x=1pt,y=1pt]
\useasboundingbox (0,0) rectangle (524,-738.5);
% Panel A
\begin{axis}[panel, at={(0,0)}, height=249pt, ymin=0, ymax=498]
\addplot[fr,line width=.7pt,no markers] coordinates {(1048,10)(10,10)(10,489)(1048,489)};
\basemap{0}
\addplot[pts] table[x expr=\thisrow{x}/3+10,y expr=\thisrow{y}/3+110,meta=c]{\AW};
\addplot[pts] table[x expr=\thisrow{x}/3+400,y expr=\thisrow{y}/3+10,meta=c]{\AE};
\addplot[leg] table[meta=c,row sep=\\]{x y c\\ 852 206 1\\ 852 246 2\\ 852 286 3\\ 852 326 4\\ 852 366 5\\};
\letter{35}{42}{A}
\ttxt{823}{166.5}{TN (mg/L)}
\ltxt{893}{206}{0.2 - 0.5}
\ltxt{893}{246}{0.6 - 1.0}
\ltxt{893}{286}{1.1 - 1.5}
\ltxt{893}{326}{1.6 - 2.0}
\ltxt{893}{366}{2.1 - 9.4}
\end{axis}
% Panel B
\begin{axis}[panel, at={(0,-249pt)}, height=249pt, ymin=498, ymax=996]
\addplot[fr,line width=.7pt,no markers] coordinates {(1048,507)(10,507)(10,987)(1048,987)};
\basemap{498}
\addplot[pts] table[x expr=\thisrow{x}/3+10,y expr=\thisrow{y}/3+610,meta=c]{\BW};
\addplot[pts] table[x expr=\thisrow{x}/3+400,y expr=\thisrow{y}/3+510,meta=c]{\BE};
\addplot[leg] table[meta=c,row sep=\\]{x y c\\ 842 735 1\\ 842 775 2\\ 842 815 3\\ 842 855 4\\ 842 895 5\\};
\letter{36}{539}{B}
\ttxt{813}{696.5}{TP (mg/L)}
\ltxt{882}{735}{0.01 - 0.10}
\ltxt{882}{775}{0.11 - 0.15}
\ltxt{882}{815}{0.16 - 0.20}
\ltxt{882}{855}{0.21 - 0.50}
\ltxt{882}{895}{0.51 - 3.79}
\end{axis}
% Panel C
\begin{axis}[panel, at={(0,-498pt)}, height=240.5pt, ymin=996, ymax=1477]
\addplot[fr,line width=.7pt,no markers] coordinates {(1048,1004)(10,1004)(10,1477)};
\basemap{995}
\addplot[pts] table[x expr=\thisrow{x}/3+10,y expr=\thisrow{y}/3+1100,meta=c]{\CW};
\addplot[pts] table[x expr=\thisrow{x}/3+400,y expr=\thisrow{y}/3+1005,meta=c]{\CE};
\addplot[leg] table[meta=c,row sep=\\]{x y c\\ 844 1222 1\\ 844 1262 2\\ 844 1302 3\\ 844 1342 4\\ 844 1382 5\\};
\letter{44}{1043}{C}
\ttxt{816}{1183.5}{TSS (mg/L)}
\ltxt{884}{1222}{0.3 - 10.0}
\ltxt{884}{1262}{10.1 - 50.0}
\ltxt{884}{1302}{50.1 - 100.0}
\ltxt{884}{1342}{100.1 - 200.0}
\ltxt{884}{1382}{>200}
\end{axis}
\end{tikzpicture}
\end{document}
